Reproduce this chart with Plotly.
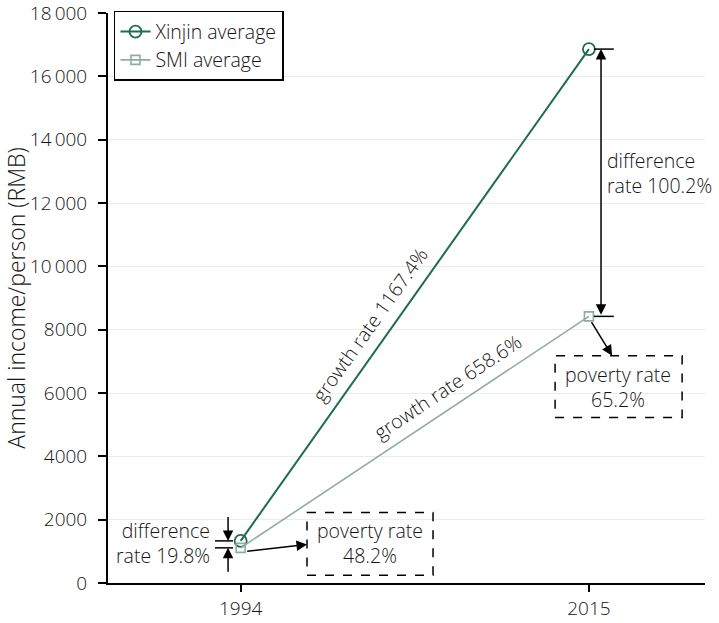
import plotly.graph_objects as go

# ---- data ----
years = [1994, 2015]
xinjin_avg = [1330, 16860]
smi_avg = [1110, 8420]
series_names = ["Xinjin average", "SMI average"]
y_tickvals = [0, 2000, 4000, 6000, 8000, 10000, 12000, 14000, 16000, 18000]
y_ticktext = ["0", "2000", "4000", "6000", "8000", "10\u2009000", "12\u2009000",
              "14\u2009000", "16\u2009000", "18\u2009000"]
growth_labels = ["growth rate 1167.4%", "growth rate 658.6%"]
diff_labels = ["difference<br>rate 19.8%", "difference<br>rate 100.2%"]
poverty_labels = ["poverty rate<br>48.2%", "poverty rate<br>65.2%"]

FONT = "Open Sans"
TXT = "#151515"
C_X = "#1d6b52"
C_S = "#8eada2"
FS = 19
FA = 19.5

def f(size):
    return dict(size=size, color=TXT, family=FONT, weight=300)

fig = go.Figure()
fig.add_trace(go.Scatter(
    x=years, y=xinjin_avg, name=series_names[0], mode="lines+markers",
    line=dict(color=C_X, width=2),
    marker=dict(symbol="circle-open", size=12, color=C_X, line=dict(width=1.8)),
))
fig.add_trace(go.Scatter(
    x=years, y=smi_avg, name=series_names[1], mode="lines+markers",
    line=dict(color=C_S, width=1.6),
    marker=dict(symbol="square-open", size=9, color=C_S, line=dict(width=1.6)),
))

ann = []
# growth rate labels along lines
ann.append(dict(x=2001.8, y=8150, xref="x", yref="y", text=growth_labels[0],
                showarrow=False, textangle=-54.6, font=f(FA)))
ann.append(dict(x=2006.5, y=6200, xref="x", yref="y", text=growth_labels[1],
                showarrow=False, textangle=-33.5, font=f(FA)))
# difference labels
ann.append(dict(x=1992.25, y=1255, xref="x", yref="y", text=diff_labels[0], align="right",
                xanchor="right", yanchor="middle", showarrow=False, font=f(FA)))
ann.append(dict(x=2015.95, y=12950, xref="x", yref="y", text=diff_labels[1], align="left",
                xanchor="left", yanchor="middle", showarrow=False, font=f(FA)))
# poverty labels
ann.append(dict(x=2001.8, y=1252, xref="x", yref="y", text=poverty_labels[0], align="center",
                showarrow=False, font=f(FA)))
ann.append(dict(x=2016.76, y=6200, xref="x", yref="y", text=poverty_labels[1], align="center",
                showarrow=False, font=f(FA)))

arrow_common = dict(xref="x", yref="y", axref="x", ayref="y", text="", showarrow=True,
                    arrowhead=2, arrowsize=1.4, arrowwidth=1.5, arrowcolor="black")
# double arrow at 2015
ann.append(dict(x=2015.73, y=xinjin_avg[1], ax=2015.73, ay=smi_avg[1], arrowside="end+start",
                **arrow_common))
# small arrows at 1994
ann.append(dict(x=1993.24, y=xinjin_avg[0], ax=1993.24, ay=2135, **arrow_common))
ann.append(dict(x=1993.24, y=smi_avg[0], ax=1993.24, ay=306, **arrow_common))
# arrows to poverty boxes
ann.append(dict(x=1998.0, y=1215, ax=1994.3, ay=999, **arrow_common))
ann.append(dict(x=2016.4, y=7180, ax=2015.1, ay=8285, **arrow_common))

shapes = []
# caps
for (x0, x1, yv) in [(2015.3, 2016.5, xinjin_avg[1]), (2015.3, 2016.5, smi_avg[1]),
                     (1992.45, 1993.54, xinjin_avg[0]), (1992.45, 1993.54, smi_avg[0])]:
    shapes.append(dict(type="line", xref="x", yref="y", x0=x0, x1=x1, y0=yv, y1=yv,
                       line=dict(color="black", width=1.5)))
# dashed boxes
shapes.append(dict(type="rect", xref="x", yref="y", x0=1998.0, x1=2005.6, y0=243, y1=2230,
                   line=dict(color="black", width=1.5, dash="dash"), fillcolor="rgba(0,0,0,0)"))
shapes.append(dict(type="rect", xref="x", yref="y", x0=2012.96, x1=2020.62, y0=5225, y1=7180,
                   line=dict(color="black", width=1.5, dash="dash"), fillcolor="rgba(0,0,0,0)"))

fig.update_layout(
    width=719, height=623,
    margin=dict(l=108, r=14, t=12, b=40),
    plot_bgcolor="white", paper_bgcolor="white",
    font=f(FS),
    showlegend=True,
    legend=dict(x=0.01, y=1.002, xanchor="left", yanchor="top", bgcolor="white",
                bordercolor="black", borderwidth=1.5, font=f(19.5), tracegroupgap=0),
    annotations=ann,
    shapes=shapes,
    xaxis=dict(range=[1986, 2022], tickvals=years, ticktext=[str(y) for y in years],
               showgrid=False, zeroline=False, showline=True, linecolor="black", linewidth=2,
               ticks="outside", ticklen=7, tickwidth=1.5, tickcolor="black",
               tickfont=f(FS), automargin=False),
    yaxis=dict(range=[0, 18000], tickvals=y_tickvals, ticktext=y_ticktext,
               showgrid=True, gridcolor="#ececec", gridwidth=1, zeroline=False,
               showline=True, linecolor="black", linewidth=2,
               ticks="outside", ticklen=8, tickwidth=1.5, tickcolor="black",
               tickfont=f(FS), automargin=False, ticklabelstandoff=7,
               ticklabeloverflow="allow",
               title=dict(text="Annual income/person (RMB)", standoff=1, font=f(23))),
)

fig.write_html("out.html", config={"displayModeBar": False},
               post_script="document.body.style.margin='0';document.body.style.padding='0';")
